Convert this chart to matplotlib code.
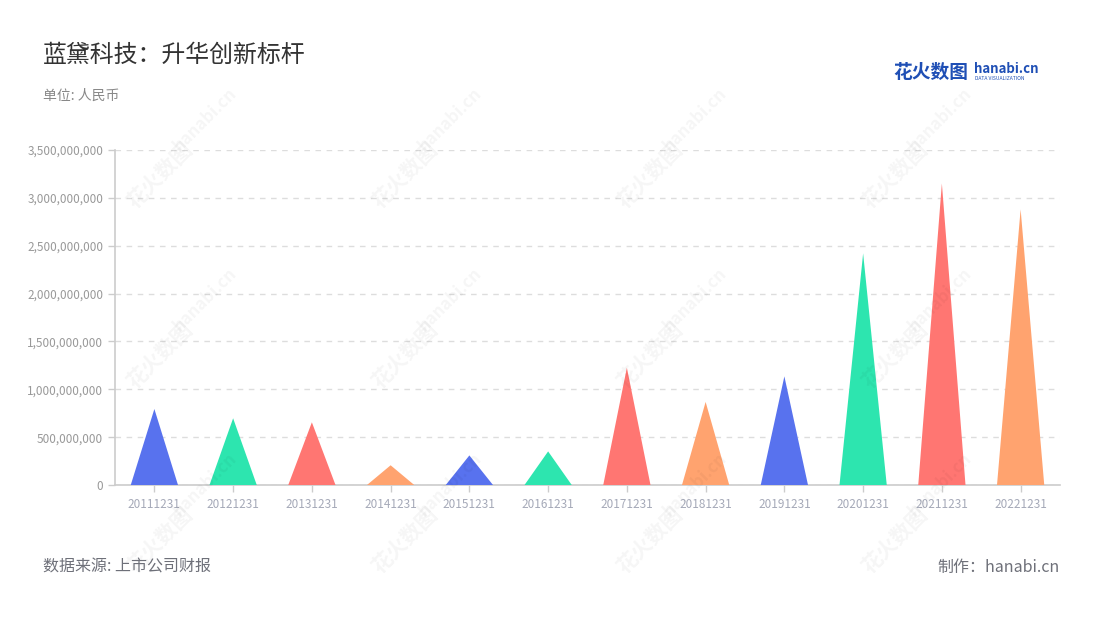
import matplotlib
matplotlib.use("Agg")
import matplotlib.pyplot as plt
from matplotlib.ticker import FuncFormatter, MultipleLocator

plt.rcParams['font.family'] = ['Noto Sans CJK SC', 'DejaVu Sans']

categories = ["20111231", "20121231", "20131231", "20141231", "20151231", "20161231",
              "20171231", "20181231", "20191231", "20201231", "20211231", "20221231"]
values = [794e6, 697e6, 655e6, 206e6, 309e6, 351e6,
          1226e6, 868e6, 1135e6, 2420e6, 3150e6, 2880e6]
palette = ['#5872EE', '#2DE5AF', '#FF7672', '#FFA36F']

title = "蓝黛科技：升华创新标杆"
subtitle = "单位: 人民币"
source = "数据来源: 上市公司财报"
maker = "制作：hanabi.cn"

fig = plt.figure(figsize=(11, 6.2), dpi=100)
ax = fig.add_axes([115/1100, 1-485/620, 945/1100, 335/620])

bar_w = 0.6
for i, v in enumerate(values):
    c = palette[i % len(palette)]
    ax.fill([i - bar_w/2, i, i + bar_w/2], [0, v, 0], color=c, lw=0, zorder=3)

ax.set_xlim(-0.5, len(categories) - 0.5)
ax.set_ylim(0, 3.5e9)
ax.yaxis.set_major_locator(MultipleLocator(5e8))
ax.yaxis.set_major_formatter(FuncFormatter(lambda v, p: f"{int(round(v)):,}"))
ax.set_xticks(range(len(categories)))
ax.set_xticklabels(categories)

ax.grid(axis='y', color='#dddddd', linestyle=(0, (4, 4)), lw=1, zorder=0)
for s in ['top', 'right']:
    ax.spines[s].set_visible(False)
for s in ['left', 'bottom']:
    ax.spines[s].set_color('#cccccc')
    ax.spines[s].set_linewidth(1.2)
ax.tick_params(axis='y', colors='#cccccc', labelcolor='#999999', labelsize=8.5, length=5, width=1)
ax.tick_params(axis='x', colors='#cccccc', labelcolor='#a5a9b8', labelsize=8.5, length=5, width=1, pad=4)

# watermarks
for wx in [160, 405, 650, 895]:
    for wy in [175, 355, 540]:
        fig.text(wx/1100, 1-wy/620, "花火数图", rotation=45, fontsize=15, color='#000000',
                 alpha=0.04, ha='center', va='center', fontweight='bold')
        fig.text((wx+45)/1100, 1-(wy-55)/620, "hanabi.cn", rotation=45, fontsize=12, color='#000000',
                 alpha=0.04, ha='center', va='center', fontweight='bold')

fig.text(43/1100, 1-55/620, title, fontsize=17.2, color='#333333', ha='left', va='center')
fig.text(43/1100, 1-96/620, subtitle, fontsize=10, color='#888888', ha='left', va='center')
fig.text(43/1100, 1-567/620, source, fontsize=11.5, color='#6e7079', ha='left', va='center')
fig.text(1060/1100, 1-567/620, maker, fontsize=11.5, color='#6e7079', ha='right', va='center')

# logo
fig.text(893/1100, 1-72/620, "花火数图", fontsize=13.5, color='#1f4fb5', ha='left', va='center',
         fontweight='bold')
fig.text(974/1100, 1-69/620, "hanabi.cn", fontsize=9.5, color='#1f4fb5', ha='left', va='center',
         fontweight='bold')
fig.text(975/1100, 1-79/620, "DATA VISUALIZATION", fontsize=3.6, color='#1f4fb5', ha='left', va='center')

fig.savefig("out.png", dpi=100, facecolor='white')
